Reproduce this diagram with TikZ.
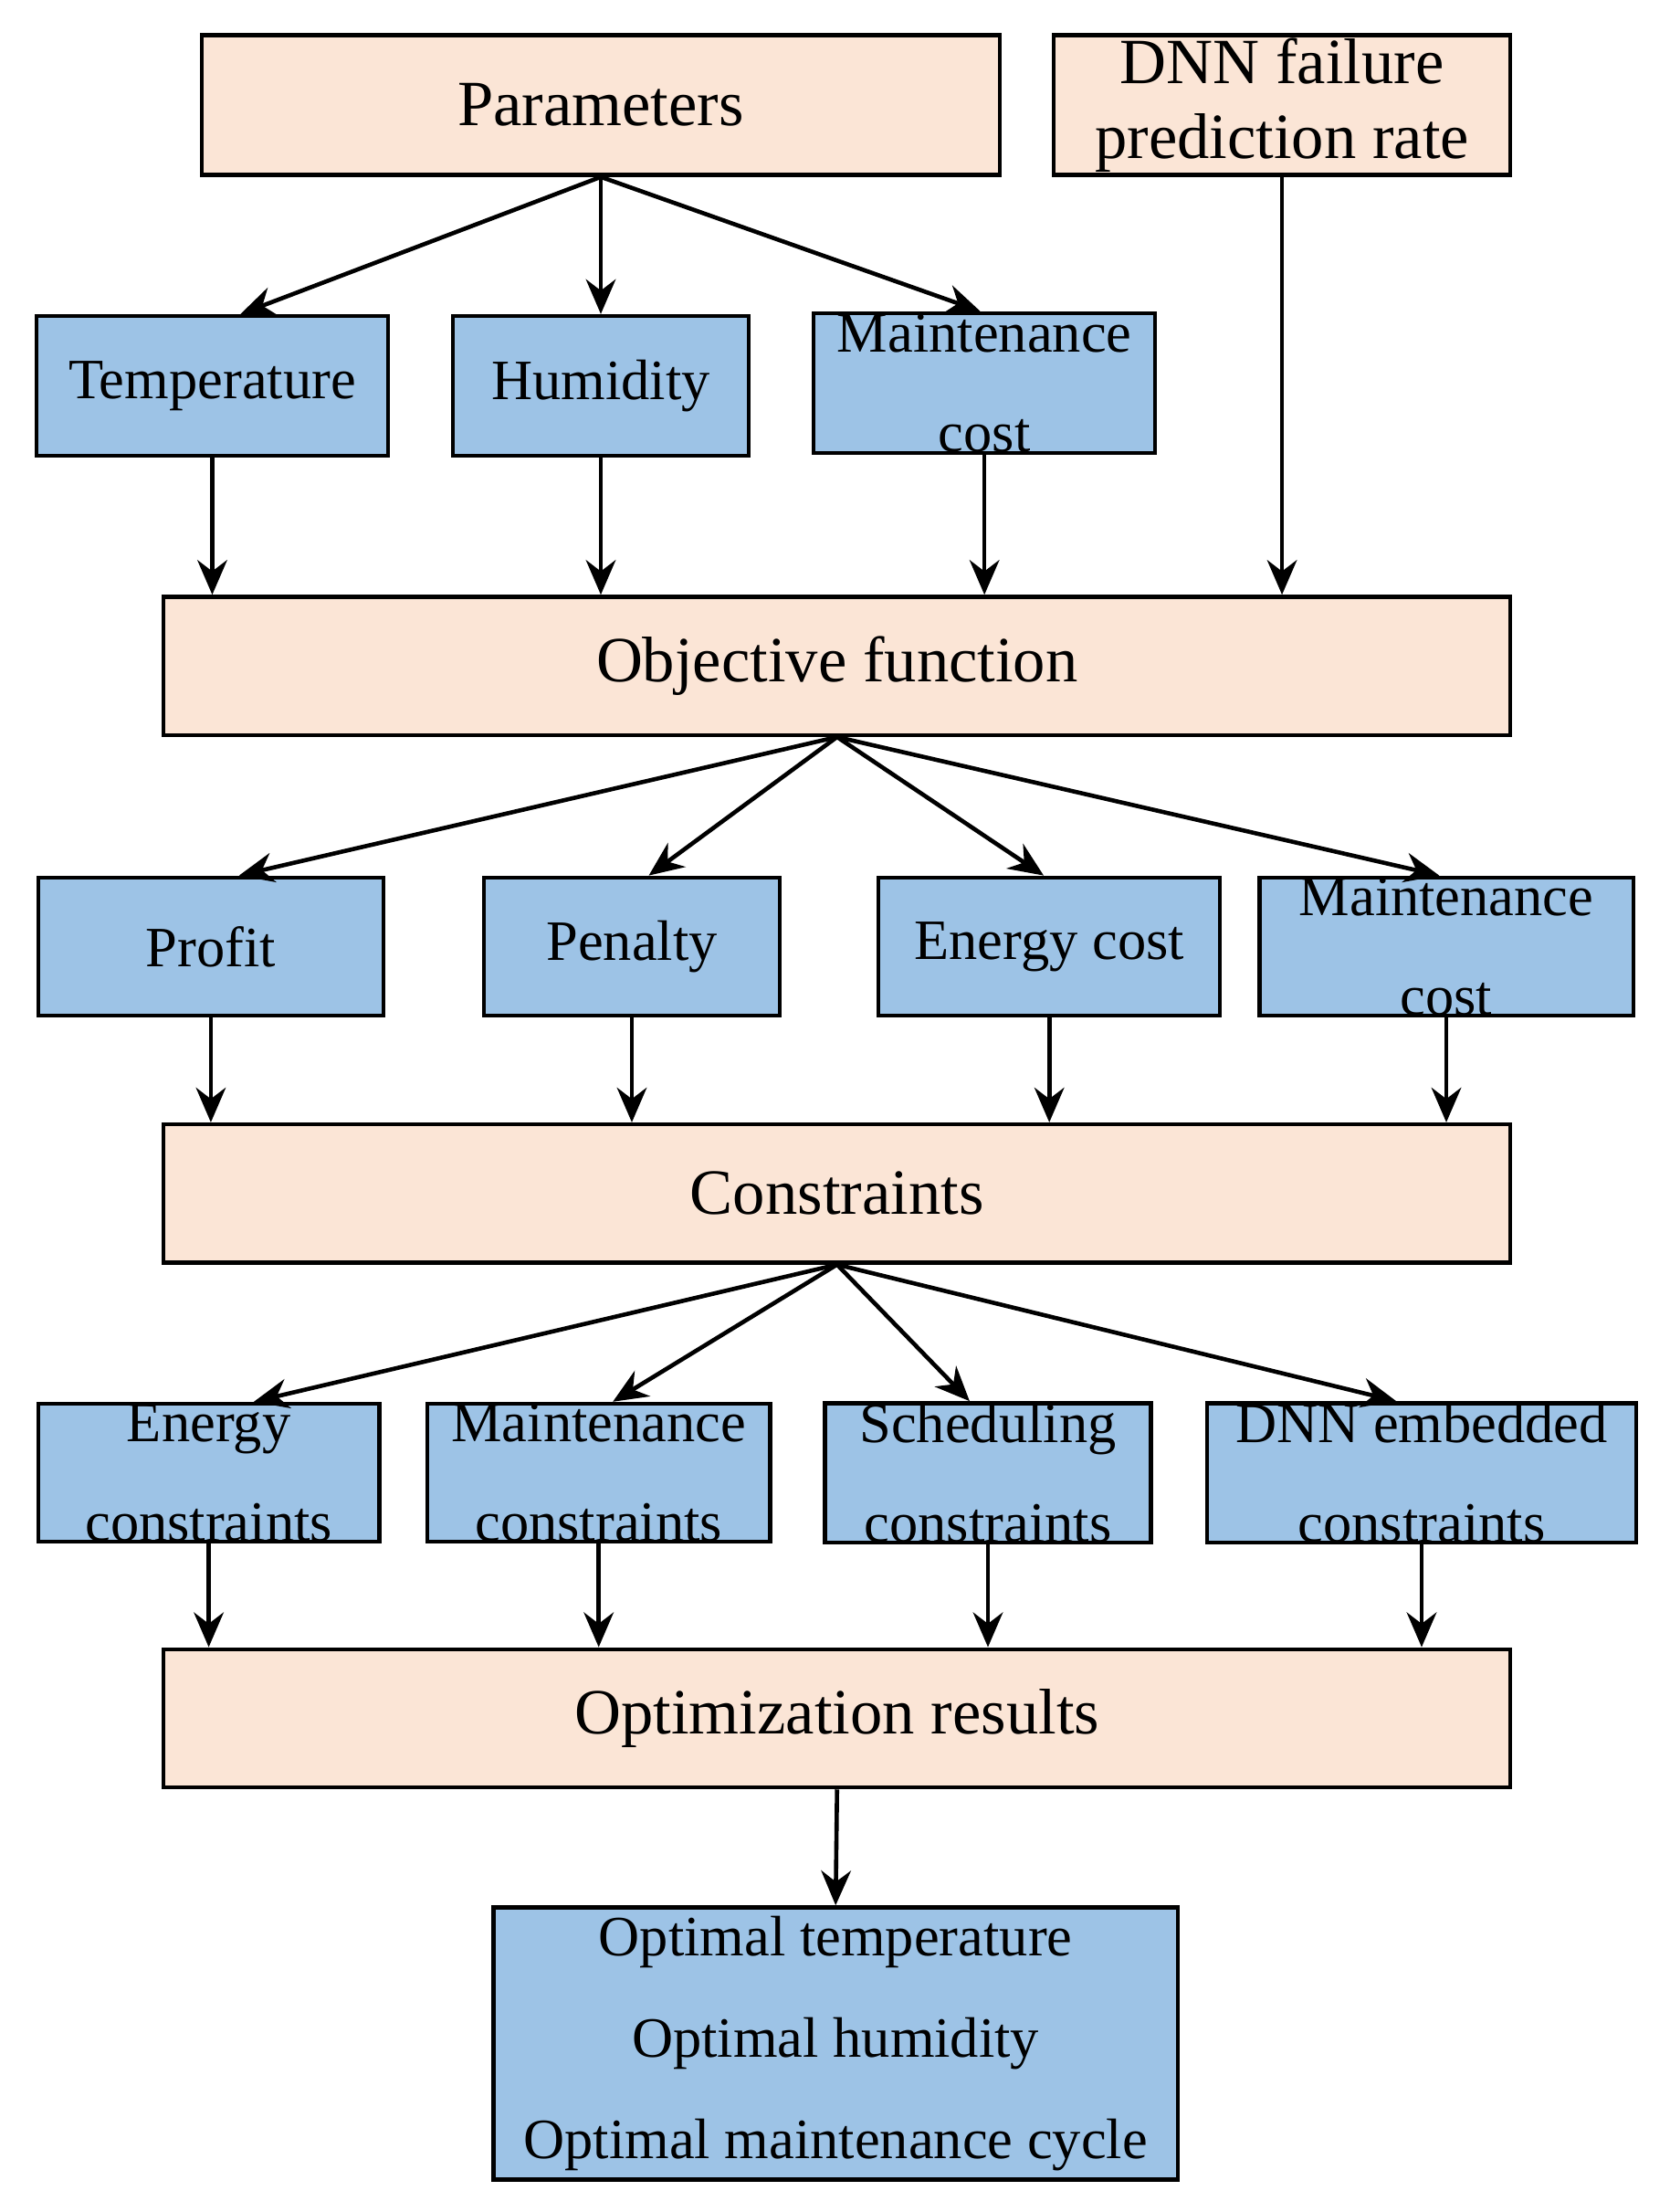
\documentclass[tikz,border=0pt]{standalone}
\usepackage{fontspec}
\setmainfont{Liberation Serif}
\usetikzlibrary{arrows.meta}
\definecolor{peach}{HTML}{FBE5D6}
\definecolor{lblue}{HTML}{9DC3E6}
\begin{document}
\begin{tikzpicture}[x=0.01cm,y=-0.01cm,
  box/.style={draw,line width=0.8pt,inner sep=0pt,align=center,font=\fontsize{11.5}{16}\selectfont},
  pbox/.style={box,fill=peach,font=\fontsize{13}{14}\selectfont},
  bbox/.style={box,fill=lblue},
  arr/.style={line width=0.85pt,-{Stealth[length=7pt,width=6pt]}}]
\useasboundingbox (0,0) rectangle (1184,1568);
\newcommand\bx[7]{\node[#1,minimum width=#4*0.01cm,minimum height=#5*0.01cm] (#2) at (#3) {#6};}
\bx{pbox}{par}{426,74.5}{566}{99}{Parameters}{}
\bx{pbox,font=\fontsize{13}{15}\selectfont}{dnn}{909,74.5}{324}{99}{DNN failure\\prediction rate}{}
\bx{bbox}{tem}{150.5,273.5}{249}{99}{Temperature}{}
\bx{bbox}{hum}{426,273.5}{210}{99}{Humidity}{}
\bx{bbox,font=\fontsize{11.5}{20}\selectfont}{mc1}{698,271.5}{242}{99}{Maintenance\\cost}{}
\bx{pbox}{obj}{593.5,472}{955}{98}{Objective function}{}
\bx{bbox}{pro}{149.5,671}{245}{98}{Profit}{}
\bx{bbox}{pen}{448,671}{210}{98}{Penalty}{}
\bx{bbox}{ene}{744,671}{242}{98}{Energy cost}{}
\bx{bbox,font=\fontsize{11.5}{20}\selectfont}{mc2}{1025.5,671}{265}{98}{Maintenance\\cost}{}
\bx{pbox}{con}{593.5,846}{955}{98}{Constraints}{}
\bx{bbox,font=\fontsize{11.5}{20}\selectfont}{ec}{148,1044}{242}{98}{Energy\\constraints}{}
\bx{bbox,font=\fontsize{11.5}{20}\selectfont}{mcs}{424.5,1044}{243}{98}{Maintenance\\constraints}{}
\bx{bbox,font=\fontsize{11.5}{20}\selectfont}{sc}{700.5,1044}{231}{98}{Scheduling\\constraints}{}
\bx{bbox,font=\fontsize{11.5}{20}\selectfont}{de}{1008,1044}{304}{98}{DNN embedded\\constraints}{}
\bx{pbox}{opt}{593.5,1218}{955}{98}{Optimization results}{}
\bx{bbox,font=\fontsize{11.5}{20.5}\selectfont}{fin}{592.5,1448.5}{485}{193}{Optimal temperature\\Optimal humidity\\Optimal maintenance cycle}{}
% arrows
\draw[arr] (par.south) -- ([xshift=0.2cm]tem.north);
\draw[arr] (par.south) -- (hum.north);
\draw[arr] (par.south) -- ([xshift=-0.03cm]mc1.north);
\foreach \n in {tem,hum,mc1} \draw[arr] (\n.south) -- (\n.south |- obj.north);
\draw[arr] (dnn.south) -- (dnn.south |- obj.north);
\draw[arr] (obj.south) -- ([xshift=0.2cm]pro.north);
\draw[arr] (obj.south) -- ([xshift=0.12cm]pen.north);
\draw[arr] (obj.south) -- ([xshift=-0.04cm]ene.north);
\draw[arr] (obj.south) -- ([xshift=-0.05cm]mc2.north);
\foreach \n in {pro,pen,ene,mc2} \draw[arr] (\n.south) -- (\n.south |- con.north);
\draw[arr] (con.south) -- ([xshift=0.32cm]ec.north);
\draw[arr] (con.south) -- ([xshift=0.1cm]mcs.north);
\draw[arr] (con.south) -- ([xshift=-0.13cm]sc.north);
\draw[arr] (con.south) -- ([xshift=-0.18cm]de.north);
\foreach \n in {ec,mcs,sc,de} \draw[arr] (\n.south) -- (\n.south |- opt.north);
\draw[arr] (opt.south) -- (fin.north);
\end{tikzpicture}
\end{document}
